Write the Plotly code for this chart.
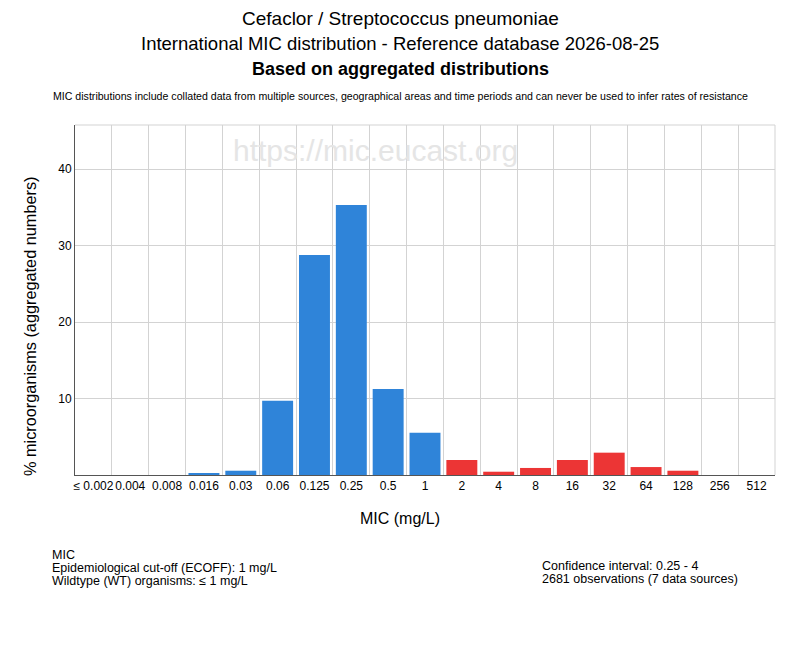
import plotly.graph_objects as go

mic_labels = ["≤ 0.002", "0.004", "0.008", "0.016", "0.03", "0.06", "0.125", "0.25",
              "0.5", "1", "2", "4", "8", "16", "32", "64", "128", "256", "512"]
pct = [0, 0, 0, 0.15, 0.56, 9.7, 28.76, 35.3, 11.24, 5.53,
       1.96, 0.43, 0.92, 1.96, 2.92, 1.04, 0.56, 0, 0]
ecoff_index = 9  # 1 mg/L, bars above it are non-wildtype

BLUE = "#2f84d9"
RED = "#ec3535"
colors = [BLUE if i <= ecoff_index else RED for i in range(len(pct))]
pos = list(range(len(mic_labels)))

fig = go.Figure()
fig.add_trace(go.Bar(x=pos, y=pct, marker=dict(color=colors, line=dict(width=0)),
                     hoverinfo="skip"))

TXT = "Liberation Sans, Arial, sans-serif"


def py(p):
    # page row -> paper y (plot spans rows 125..475 on the page)
    return (475 - p) / 350


def px(p):
    return (p - 75) / 700


def label(text, x, y, size, xanchor="center", **kw):
    fig.add_annotation(text=text, xref="paper", yref="paper", x=x, y=y,
                       showarrow=False, xanchor=xanchor, yanchor="middle",
                       font=dict(family=TXT, size=size, color=kw.pop("color", "black")), **kw)


label("Cefaclor / Streptococcus pneumoniae", px(400), py(18), 19)
label("International MIC distribution - Reference database 2026-08-25", px(400), py(44), 18.5)
label("<b>Based on aggregated distributions</b>", px(400), py(69), 18)
label("MIC distributions include collated data from multiple sources, geographical areas and time periods and can never be used to infer rates of resistance",
      px(400), py(96), 10.6)

label("https://mic.eucast.org", px(375), py(150), 30, color="#e5e5e5")

label("MIC (mg/L)", px(400), py(518), 16)
label("% microorganisms (aggregated numbers)", px(30), py(326), 16.3, textangle=-90)

for txt, row in [("MIC", 555),
                 ("Epidemiological cut-off (ECOFF): 1 mg/L", 568),
                 ("Wildtype (WT) organisms: ≤ 1 mg/L", 581)]:
    label(txt, px(50), py(row), 12.5, xanchor="left")
for txt, row in [("Confidence interval: 0.25 - 4", 566),
                 ("2681 observations (7 data sources)", 579)]:
    label(txt, px(540), py(row), 12.5, xanchor="left")

fig.update_layout(
    width=800, height=650,
    margin=dict(l=67, r=33, t=117, b=183),
    paper_bgcolor="white", plot_bgcolor="white",
    showlegend=False, bargap=0.16,
    font=dict(family=TXT, size=12, color="black"),
    xaxis=dict(range=[-0.5, len(pos) - 0.5], tickvals=pos, ticktext=mic_labels,
               tickangle=0, showgrid=False, showline=True, linecolor="#555",
               linewidth=1, ticks="", tickfont=dict(size=12), zeroline=False,
               minor=dict(tick0=0.5, dtick=1, showgrid=True, gridcolor="#d3d3d3",
                          gridwidth=1, ticks="")),
    yaxis=dict(range=[0, 45.77], tickvals=[10, 20, 30, 40], showgrid=True,
               gridcolor="#d3d3d3", gridwidth=1, showline=True, linecolor="#555",
               linewidth=1, ticks="", zeroline=False, tickfont=dict(size=12)),
)
# top and right border
fig.add_shape(type="line", xref="paper", yref="paper", x0=0, x1=1, y0=1, y1=1,
              line=dict(color="#d3d3d3", width=1))
fig.add_shape(type="line", xref="paper", yref="paper", x0=1, x1=1, y0=0, y1=1,
              line=dict(color="#d3d3d3", width=1))

fig.write_html("out.html")
